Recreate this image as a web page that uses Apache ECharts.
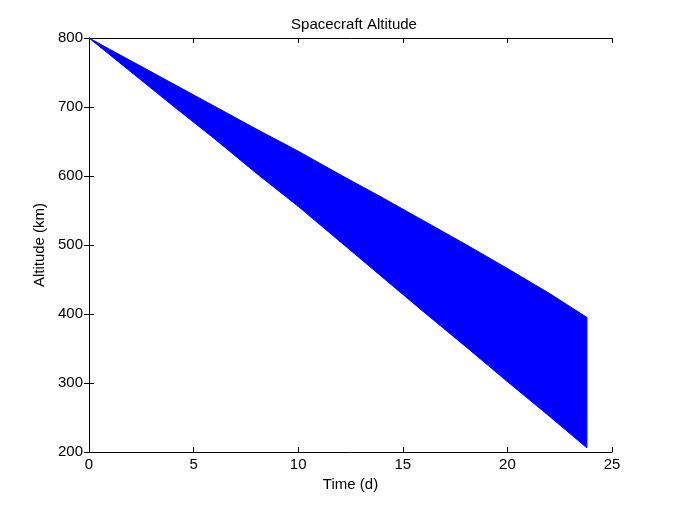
<!DOCTYPE html>
<html>
<head>
<meta charset="utf-8">
<script src="https://cdn.jsdelivr.net/npm/echarts@6/dist/echarts.min.js"></script>
<style>html,body{margin:0;padding:0;background:#fff;}#c{width:676px;height:507px;}</style>
</head>
<body>
<div id="c"></div>
<script>
// Envelope of the oscillating altitude trace
const times = [0, 2, 4, 6, 8, 10, 12, 14, 16, 18, 20, 22, 23.8];
const upperAlt = [800, 767, 734, 701, 668, 636, 602, 569, 535, 501, 466, 430, 395];
const lowerAlt = [800, 751, 702, 654, 604, 556, 505, 454, 403, 353, 302, 252, 206];
const xTicks = [0, 5, 10, 15, 20, 25];
const yTicks = [200, 300, 400, 500, 600, 700, 800];

const bandData = times.map((t, i) => [t, lowerAlt[i], upperAlt[i]]);

const font = 'Liberation Sans, Arial, sans-serif';
const axisCommon = {
  type: 'value',
  axisLine: { show: true, lineStyle: { color: '#000', width: 1 } },
  axisTick: { show: true, inside: true, length: 5, lineStyle: { color: '#000' } },
  splitLine: { show: false }
};
const chart = echarts.init(document.getElementById('c'), null, { renderer: 'canvas' });
chart.setOption({
  backgroundColor: '#fff',
  animation: false,
  title: {
    text: 'Spacecraft Altitude',
    left: 349, top: 12, textAlign: 'center',
    textStyle: { fontFamily: font, fontSize: 15, fontWeight: 'normal', color: '#000' }
  },
  grid: { left: 89, right: 64, top: 38, bottom: 55, containLabel: false },
  xAxis: [
    Object.assign({}, axisCommon, {
      position: 'bottom', min: xTicks[0], max: xTicks[xTicks.length - 1], interval: 5,
      name: 'Time (d)', nameLocation: 'middle', nameGap: 24,
      nameTextStyle: { fontFamily: font, fontSize: 15, color: '#000' },
      axisLabel: { fontFamily: font, fontSize: 15, color: '#000', margin: 5 }
    }),
    Object.assign({}, axisCommon, {
      position: 'top', min: 0, max: 25, interval: 5,
      axisLabel: { show: false }
    })
  ],
  yAxis: [
    Object.assign({}, axisCommon, {
      position: 'left', min: yTicks[0], max: yTicks[yTicks.length - 1], interval: 100,
      name: 'Altitude (km)', nameLocation: 'middle', nameGap: 40,
      nameTextStyle: { fontFamily: font, fontSize: 15, color: '#000' },
      axisLabel: { fontFamily: font, fontSize: 15, color: '#000', margin: 6 }
    }),
    Object.assign({}, axisCommon, {
      position: 'right', min: 200, max: 800, interval: 100,
      axisLabel: { show: false }
    })
  ],
  series: [
    {
      type: 'custom',
      xAxisIndex: 0, yAxisIndex: 0,
      data: bandData,
      encode: { x: 0, y: [1, 2] },
      clip: true,
      renderItem: function (params, api) {
        const i = params.dataIndex;
        if (i >= bandData.length - 1) return null;
        const a = bandData[i], b = bandData[i + 1];
        const pts = [
          api.coord([a[0], a[2]]),
          api.coord([b[0], b[2]]),
          api.coord([b[0], b[1]]),
          api.coord([a[0], a[1]])
        ];
        return {
          type: 'polygon',
          shape: { points: pts },
          style: { fill: '#0000ff', stroke: '#0000ff', lineWidth: 1 }
        };
      },
      z: 2
    }
  ]
});
</script>
</body>
</html>
